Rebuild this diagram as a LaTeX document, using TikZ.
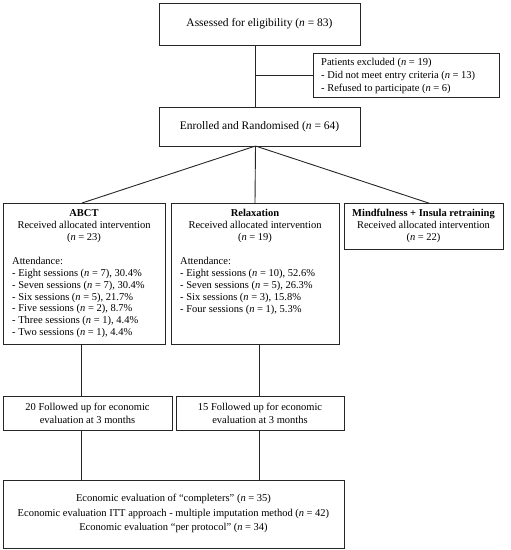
\documentclass[tikz,border=0pt]{standalone}
\usepackage{fontspec}
\setmainfont{Liberation Serif}
\begin{document}
\begin{tikzpicture}[x=1pt,y=-1pt,
  box/.style={draw=black!85, line width=0.9pt, inner sep=0pt, outer sep=0pt},
  conn/.style={draw=black!85, line width=0.9pt},
  big/.style={font=\fontsize{11.5}{13}\selectfont, inner sep=0pt},
  txt/.style={font=\fontsize{10.5}{11.9}\selectfont, inner sep=0pt},
]
\useasboundingbox (0,0) rectangle (511,550);
% boxes
\node[box, minimum width=201pt, minimum height=42pt] (assess) at (259.5,24) {};
\node[box, minimum width=186pt, minimum height=44pt] (excl) at (406,75) {};
\node[box, minimum width=201pt, minimum height=39pt] (enrol) at (259.5,126.5) {};
\node[box, minimum width=162pt, minimum height=141pt] (abct) at (84,273.5) {};
\node[box, minimum width=168pt, minimum height=141pt] (relax) at (255,273.5) {};
\node[box, minimum width=159pt, minimum height=46pt] (mind) at (423.5,226.5) {};
\node[box, minimum width=169pt, minimum height=34pt] (fu1) at (87.5,413) {};
\node[box, minimum width=168pt, minimum height=34pt] (fu2) at (260,413) {};
\node[box, minimum width=341pt, minimum height=68pt] (econ) at (173.5,514) {};
% texts
\node[big] (tassess) at (259.5,24) {Assessed for eligibility (\textit{n} = 83)};
\node[big] (tenrol) at (259.5,126.5) {Enrolled and Randomised (\textit{n} = 64)};
\node[txt, anchor=west, align=left, font=\fontsize{10.5}{12.8}\selectfont] (texcl) at (321,76)
  {Patients excluded (\textit{n} = 19)\\- Did not meet entry criteria (\textit{n} = 13)\\- Refused to participate (\textit{n} = 6)};
\node[txt, align=center] (tabct) at (84,226)
  {\textbf{ABCT}\\Received allocated intervention\\(\textit{n} = 23)};
\node[txt, anchor=west, align=left] (labct) at (12,297.5)
  {Attendance:\\
   - Eight sessions (\textit{n} = 7), 30.4\%\\
   - Seven sessions (\textit{n} = 7), 30.4\%\\
   - Six sessions (\textit{n} = 5), 21.7\%\\
   - Five sessions (\textit{n} = 2), 8.7\%\\
   - Three sessions (\textit{n} = 1), 4.4\%\\
   - Two sessions (\textit{n} = 1), 4.4\%};
\node[txt, align=center] (trelax) at (255,226)
  {\textbf{Relaxation}\\Received allocated intervention\\(\textit{n} = 19)};
\node[txt, anchor=west, align=left] (lrelax) at (180,286)
  {Attendance:\\
   - Eight sessions (\textit{n} = 10), 52.6\%\\
   - Seven sessions (\textit{n} = 5), 26.3\%\\
   - Six sessions (\textit{n} = 3), 15.8\%\\
   - Four sessions (\textit{n} = 1), 5.3\%};
\node[txt, align=center] (tmind) at (423.5,226)
  {\textbf{Mindfulness + Insula retraining}\\Received allocated intervention\\(\textit{n} = 22)};
\node[txt, align=center, font=\fontsize{10.5}{13}\selectfont] (tfu1) at (87.5,413.5)
  {20 Followed up for economic\\evaluation at 3 months};
\node[txt, align=center, font=\fontsize{10.5}{13}\selectfont] (tfu2) at (260,413.5)
  {15 Followed up for economic\\evaluation at 3 months};
\node[txt, align=center, font=\fontsize{10.5}{14.5}\selectfont] (tecon) at (173.5,513.5)
  {Economic evaluation of ``completers'' (\textit{n} = 35)\\
   Economic evaluation ITT approach - multiple imputation method (\textit{n} = 42)\\
   Economic evaluation ``per protocol'' (\textit{n} = 34)};
% connector columns
\coordinate (trunk) at (255.5,0);
\coordinate (mcol) at (430,0);
\coordinate (acol) at (82,0);
\coordinate (colA) at (81,0);
\coordinate (colB) at (259,0);
% connectors
\draw[conn] (assess.south -| trunk) -- (enrol.north -| trunk);
\draw[conn] (excl.west) -- (excl.west -| trunk);
\draw[conn] (enrol.south -| trunk) -- (abct.north -| acol);
\draw[conn] (enrol.south -| trunk) -- (relax.north);
\draw[conn] (enrol.south -| trunk) -- (mind.north -| mcol);
\draw[conn] (abct.south -| colA) -- (fu1.north -| colA);
\draw[conn] (relax.south -| colB) -- (fu2.north -| colB);
\draw[conn] (fu1.south -| colA) -- (econ.north -| colA);
\draw[conn] (fu2.south -| colB) -- (econ.north -| colB);
\end{tikzpicture}
\end{document}
